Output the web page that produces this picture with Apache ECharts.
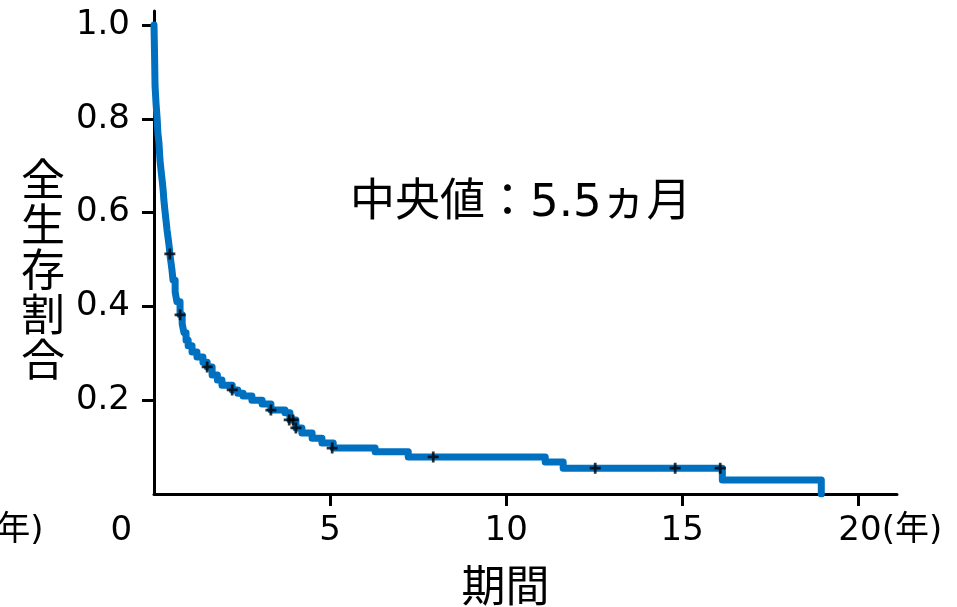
<!DOCTYPE html>
<html>
<head>
<meta charset="utf-8">
<script src="https://cdn.jsdelivr.net/npm/echarts@6/dist/echarts.min.js"></script>
<style>
	html, body { margin: 0; padding: 0; background: #fff; }
	#chart { width: 957px; height: 607px; }
</style>
</head>
<body>
<div id="chart"></div>
<script>
	// KM curve (years, survival)
	var kmTime = [0, 0.015, 0.03, 0.06, 0.09, 0.11, 0.14, 0.17, 0.2, 0.23, 0.26, 0.28, 0.31, 0.34, 0.37, 0.4, 0.43, 0.45, 0.48, 0.51, 0.54, 0.6, 0.65, 0.74, 0.8, 0.85, 0.91, 0.97, 1.08, 1.22, 1.39, 1.51, 1.65, 1.8, 1.93, 2.22, 2.38, 2.53, 2.78, 3.07, 3.32, 3.72, 3.86, 4.03, 4.2, 4.49, 4.77, 5.09, 6.28, 7.22, 11.11, 11.62, 16.14, 18.95]
	var kmSurv = [1.0, 0.94, 0.87, 0.83, 0.8, 0.77, 0.75, 0.712, 0.69, 0.67, 0.648, 0.627, 0.605, 0.584, 0.563, 0.546, 0.529, 0.512, 0.495, 0.478, 0.456, 0.431, 0.41, 0.382, 0.363, 0.344, 0.328, 0.316, 0.303, 0.292, 0.281, 0.271, 0.254, 0.243, 0.232, 0.222, 0.215, 0.209, 0.2, 0.192, 0.179, 0.173, 0.158, 0.141, 0.13, 0.119, 0.109, 0.098, 0.09, 0.079, 0.068, 0.055, 0.03, 0]
	// censored cases
	var censorTime = [0.45, 0.74, 1.51, 2.22, 3.32, 3.84, 3.95, 4.03, 5.06, 7.93, 12.53, 14.8, 16.08]
	var censorSurv = [0.512, 0.382, 0.271, 0.222, 0.179, 0.158, 0.158, 0.141, 0.098, 0.079, 0.055, 0.055, 0.055]
	var xLabels = [0, 5, 10, 15, 20]
	var xTicks = [5, 10, 15, 20]
	var yLabels = [0.2, 0.4, 0.6, 0.8, 1.0]
	var titleText = '中央値：5.5ヵ月'
	var yTitle = '全生存割合'

	var kmData = []
	for (var i = 0; i < kmTime.length; i++) {
		kmData.push([kmTime[i], kmSurv[i]])
	}
	var censorData = []
	for (var j = 0; j < censorTime.length; j++) {
		censorData.push([censorTime[j], censorSurv[j]])
	}

	var font = 'DejaVu Sans, Noto Sans CJK JP'
	var myChart = echarts.init(document.getElementById('chart'));
	var option = {
		animation: false,
		title: {
			text: titleText,
			left: 345,
			top: 177,
			textStyle: {
				fontSize: 45,
				fontWeight: 'normal',
				color: '#000',
				fontFamily: font
			}
		},
		// vertical y axis title
		graphic: [{
			type: 'text',
			left: 21,
			top: 157,
			style: {
				text: yTitle.split('').join('\n'),
				font: '44px "Noto Sans CJK JP"',
				lineHeight: 45,
				fill: '#000',
				align: 'center'
			}
		}],
		grid: {
			left: 154,
			right: 60,
			top: 11,
			bottom: 113,
			containLabel: false,
			outerBoundsMode: 'none'
		},
		xAxis: {
			type: 'value',
			min: 0,
			max: 21.1,
			interval: 5,
			name: '期間',
			nameLocation: 'middle',
			nameGap: 69,
			nameTextStyle: {
				fontSize: 44,
				color: '#000',
				fontFamily: 'Noto Sans CJK JP',
				padding: [0, 40, 0, 0]
			},
			axisLine: { show: true, lineStyle: { color: '#000', width: 3 } },
			axisTick: { show: true, customValues: xTicks, length: 12, lineStyle: { color: '#000', width: 3 } },
			splitLine: { show: false },
			axisLabel: {
				customValues: xLabels,
				margin: 20,
				fontSize: 34,
				color: '#000',
				fontFamily: font,
				formatter: function (v) {
					if (v === 0) return '{u|(年)}{g| }{z|0}{h| }'
					if (v === 20) return '{n|20}{u|(年)}'
					return String(v)
				},
				rich: {
					u: { fontSize: 34, color: '#000', fontFamily: font },
					g: { width: 67, fontSize: 34 },
					z: { fontSize: 34, color: '#000', fontFamily: font },
					h: { width: 193, fontSize: 34 },
					n: { fontSize: 34, color: '#000', fontFamily: font, padding: [0, 0, 0, 64] }
				}
			}
		},
		yAxis: {
			type: 'value',
			min: 0,
			max: 1.03,
			axisLine: { show: true, lineStyle: { color: '#000', width: 3 } },
			axisTick: { show: true, customValues: yLabels, length: 12, lineStyle: { color: '#000', width: 3 } },
			splitLine: { show: false },
			axisLabel: {
				customValues: yLabels,
				margin: 24,
				fontSize: 34,
				color: '#000',
				fontFamily: font,
				formatter: function (v) { return v.toFixed(1) }
			}
		},
		series: [{
			type: 'line',
			step: 'end',
			data: kmData,
			showSymbol: false,
			lineStyle: { color: '#0070C0', width: 7, cap: 'round', join: 'round' },
			z: 2
		}, {
			type: 'scatter',
			data: censorData,
			symbol: 'path://M3.75,0H6.25V3.75H10V6.25H6.25V10H3.75V6.25H0V3.75H3.75Z',
			symbolSize: 11,
			itemStyle: { color: '#000' },
			z: 3
		}]
	};
	myChart.setOption(option);
</script>
</body>
</html>
